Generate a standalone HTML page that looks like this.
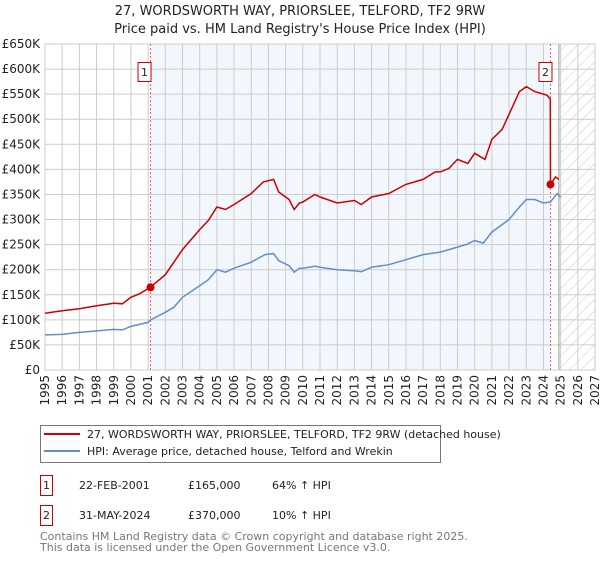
<!DOCTYPE html>
<html><head><meta charset="utf-8"><style>
body{margin:0;background:#fff;width:600px;height:560px;overflow:hidden;font-family:"DejaVu Sans","Liberation Sans",sans-serif;}
svg text{font-family:"DejaVu Sans","Liberation Sans",sans-serif;}
</style></head><body>
<svg id="chart" width="600" height="560" xmlns="http://www.w3.org/2000/svg">
<defs><pattern id="hatch" width="8" height="8" patternUnits="userSpaceOnUse" patternTransform="rotate(45)"><line x1="0" y1="0" x2="0" y2="8" stroke="#c8c8c8" stroke-width="1"/></pattern></defs>
<text x="300" y="15" text-anchor="middle" font-size="13" fill="#222">27, WORDSWORTH WAY, PRIORSLEE, TELFORD, TF2 9RW</text>
<text x="300" y="33" text-anchor="middle" font-size="13" fill="#222">Price paid vs. HM Land Registry's House Price Index (HPI)</text>
<g id="plot"></g>
<g>
<rect x="40.5" y="425.5" width="400" height="37" fill="#fff" stroke="#777"/>
<line x1="44" y1="434" x2="80" y2="434" stroke="#cc0000" stroke-width="2"/>
<text x="87" y="438" font-size="11" fill="#222">27, WORDSWORTH WAY, PRIORSLEE, TELFORD, TF2 9RW (detached house)</text>
<line x1="44" y1="451" x2="80" y2="451" stroke="#5f8fd0" stroke-width="2"/>
<text x="87" y="455" font-size="11" fill="#222">HPI: Average price, detached house, Telford and Wrekin</text>
</g>
<g font-size="11" fill="#222">
<rect x="40.5" y="475.5" width="12" height="20" fill="#fff" stroke="#cc0000"/><text x="46.5" y="489" text-anchor="middle">1</text>
<text x="79" y="489">22-FEB-2001</text><text x="188" y="489">£165,000</text><text x="272" y="489">64% ↑ HPI</text>
<rect x="40.5" y="505.5" width="12" height="20" fill="#fff" stroke="#cc0000"/><text x="46.5" y="519" text-anchor="middle">2</text>
<text x="79" y="519">31-MAY-2024</text><text x="188" y="519">£370,000</text><text x="272" y="519">10% ↑ HPI</text>
</g>
<text x="40" y="540" font-size="11" fill="#777">Contains HM Land Registry data © Crown copyright and database right 2025.</text>
<text x="40" y="551" font-size="11" fill="#777">This data is licensed under the Open Government Licence v3.0.</text>
</svg>
<script>
const yTicks=[0,50,100,150,200,250,300,350,400,450,500,550,600,650];
const yTickLabels=["£0","£50K","£100K","£150K","£200K","£250K","£300K","£350K","£400K","£450K","£500K","£550K","£600K","£650K"];
const xTicks=[1995,1996,1997,1998,1999,2000,2001,2002,2003,2004,2005,2006,2007,2008,2009,2010,2011,2012,2013,2014,2015,2016,2017,2018,2019,2020,2021,2022,2023,2024,2025,2026,2027];
const hpiYears=[1995,1996,1997,1998,1999,1999.5,2000,2001,2001.14,2002,2002.5,2003,2004,2004.5,2005,2005.5,2006,2007,2007.8,2008.3,2008.6,2009.2,2009.5,2009.8,2010,2010.7,2011,2012,2013,2013.4,2014,2015,2016,2017,2018,2019,2019.5,2020,2020.5,2021,2022,2022.6,2023,2023.5,2024,2024.4,2024.8,2025];
const hpiValues=[70,71,75,78,81,80,87,95,100,115,125,145,168,180,200,195,203,215,230,232,218,208,195,203,203,207,205,200,198,196,205,210,220,230,235,245,250,258,253,275,300,325,340,340,333,335,352,345];
const priceYears=[1995,1996,1997,1998,1999,1999.5,2000,2000.5,2001.14,2002,2003,2004,2004.5,2005,2005.5,2006,2007,2007.7,2008.3,2008.6,2009.2,2009.5,2009.8,2010,2010.7,2011,2012,2013,2013.4,2014,2015,2016,2017,2017.7,2018,2018.5,2019,2019.6,2020,2020.6,2021,2021.6,2022,2022.6,2023,2023.5,2024.2,2024.4,2024.41,2024.7,2024.9];
const priceValues=[113,118,122,128,133,132,145,152,165,190,240,280,298,325,320,330,352,375,380,355,340,320,333,335,350,345,333,338,330,345,352,370,380,395,395,402,420,412,432,420,460,480,510,555,565,555,548,540,370,385,380];
const saleYears=[2001.14,2024.41];
const saleValues=[165,370];
const saleLabels=["1","2"];

const L=45,R=595,T=44,B=370,X0=1995,X1=2027,YMAX=650;
const xs=v=>L+(v-X0)/(X1-X0)*(R-L);
const ys=v=>B-v/YMAX*(B-T);
const NS="http://www.w3.org/2000/svg";
const g=document.getElementById('plot');
function mk(tag,attrs,parent){const e=document.createElementNS(NS,tag);for(const k in attrs)e.setAttribute(k,attrs[k]);(parent||g).appendChild(e);return e;}

const shade=mk('rect',{x:xs(saleYears[0]),y:T,width:xs(saleYears[1])-xs(saleYears[0]),height:B-T,fill:'#eef3fc',opacity:0.75});


const hx=xs(2024.9);
const hatch=mk('rect',{x:hx,y:T,width:R-hx,height:B-T,fill:'url(#hatch)'});



yTicks.forEach((t,i)=>{
  const ln=mk('line',{x1:L,x2:R,y1:ys(t),y2:ys(t),stroke:'#cccccc','stroke-width':1});
  
  
  const tx=mk('text',{x:L-5,y:ys(t)+4,'text-anchor':'end','font-size':12,fill:'#222'});
  tx.textContent=yTickLabels[i];
  
  
});
xTicks.forEach(t=>{
  const ln=mk('line',{x1:xs(t),x2:xs(t),y1:T,y2:B,stroke:'#cccccc','stroke-width':1});
  
  
  const tx=mk('text',{x:0,y:0,'text-anchor':'end','font-size':12,fill:'#222',transform:`translate(${xs(t)+4},${B+5}) rotate(-90)`});
  tx.textContent=t;
  
  
});
const ed=mk('line',{x1:hx,x2:hx,y1:T,y2:B,stroke:'#999','stroke-width':1});


const fr=mk('rect',{x:L,y:T,width:R-L,height:B-T,fill:'none',stroke:'#cccccc'});



saleYears.forEach((y,i)=>{
  const ln=mk('line',{x1:xs(y),x2:xs(y),y1:T,y2:B,stroke:'#f06060','stroke-width':1,'stroke-dasharray':'2,2'});
  
  
});

const hp=mk('path',{d:hpiYears.map((y,i)=>(i?'L':'M')+xs(y).toFixed(1)+','+ys(hpiValues[i]).toFixed(1)).join(''),fill:'none',stroke:'#5f8fd0','stroke-width':1.5});


const pp=mk('path',{d:priceYears.map((y,i)=>(i?'L':'M')+xs(y).toFixed(1)+','+ys(priceValues[i]).toFixed(1)).join(''),fill:'none',stroke:'#cc0000','stroke-width':1.5});



saleYears.forEach((y,i)=>{
  const c=mk('circle',{cx:xs(y),cy:ys(saleValues[i]),r:4,fill:'#cc0000'});
  
  
  const bx=xs(y)-(i===0?3:2)-10;
  const r=mk('rect',{x:bx+0.5,y:62.5,width:13,height:19,fill:'#fff',stroke:'#cc0000'});
  
  
  const t=mk('text',{x:bx+7,y:76,'text-anchor':'middle','font-size':11,fill:'#222'});
  t.textContent=saleLabels[i];
  
  
});
</script>
</body></html>
